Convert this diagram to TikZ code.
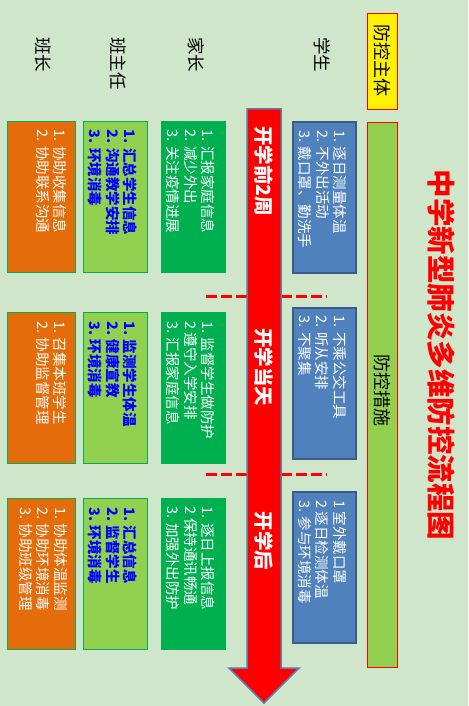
\documentclass[tikz,border=0pt]{standalone}
\usepackage{fontspec}
\setmainfont{Noto Sans CJK SC}
\definecolor{bgc}{HTML}{D0E6CA}
\definecolor{bluef}{HTML}{4F81BD}
\definecolor{blued}{HTML}{385D8A}
\definecolor{greenf}{HTML}{00B050}
\definecolor{lgreen}{HTML}{92D050}
\definecolor{orangef}{HTML}{E46C0A}
\definecolor{arrowb}{HTML}{5A7DA8}
\definecolor{txtblue}{HTML}{0000FF}
\begin{document}
\begin{tikzpicture}[x=1pt,y=1pt,
  vtext/.style={rotate=-90, inner sep=0pt, align=left, anchor=north west,
    font=\fontsize{14.5}{17.5}\selectfont},
  bbox/.style={draw=blued, line width=2pt, fill=bluef, minimum width=63pt, minimum height=151pt, inner sep=0pt},
  gbox/.style={draw=greenf, line width=0.6pt, fill=greenf, minimum width=64pt, minimum height=151pt, inner sep=0pt},
  lbox/.style={draw=greenf, line width=0.8pt, fill=lgreen, minimum width=64pt, minimum height=151pt, inner sep=0pt},
  obox/.style={draw=greenf, line width=0.8pt, fill=orangef, minimum width=68pt, minimum height=151pt, inner sep=0pt},
  head/.style={rotate=-90, anchor=west, inner sep=0pt, font=\fontsize{17.5}{20}\selectfont},
  stagetxt/.style={rotate=-90, inner sep=0pt, text=white, font=\fontsize{19.5}{22}\selectfont\bfseries},
  dashline/.style={draw=red, line width=3pt, dash pattern=on 11pt off 4pt},
  redbar/.style={rotate=-90, draw=red, line width=0.8pt, minimum height=30pt, inner sep=0pt,
    font=\fontsize{18}{20}\selectfont}
]
\useasboundingbox (0,0) rectangle (468,-706);
\fill[bgc] (0,0) rectangle (468,-706);

% title
\node[rotate=-90, inner sep=0pt, text=red, font=\fontsize{28.5}{30}\selectfont\bfseries] (title) at (441,-355) {中学新型肺炎多维防控流程图};

% subject and measure bars
\node[redbar, fill=yellow, minimum width=96pt] (zt) at (382,-61) {防控主体};
\node[redbar, fill=lgreen, minimum width=545pt] (cs) at (382.5,-394.5) {};
\node[rotate=-90, inner sep=0pt, font=\fontsize{18}{20}\selectfont] (cst) at (382.5,-390) {防控措施};

% headers
\node[head] (h1) at (322,-37) {学生};
\node[head] (h2) at (196,-37) {家长};
\node[head] (h3) at (118,-37) {班主任};
\node[head] (h4) at (43,-37) {班长};

% dashed separators
\coordinate (d1a) at (206,-296); \coordinate (d1b) at (327,-296);
\coordinate (d2a) at (206,-474); \coordinate (d2b) at (327,-474);
\draw[dashline] (d1a) -- (d1b);
\draw[dashline] (d2a) -- (d2b);

% arrow
\filldraw[fill=red, draw=arrowb, line width=1.5pt, line join=miter]
  (247,-109) -- (281,-109) -- (281,-668) -- (299,-668) -- (264,-703) -- (229,-668) -- (247,-668) -- cycle;
\node[stagetxt] (a1) at (264,-171) {开学前2周};
\node[stagetxt] (a2) at (264,-367) {开学当天};
\node[stagetxt] (a3) at (264,-541) {开学后};

% student column
\node[bbox] (s1) at (324.5,-197.5) {};
\node[bbox] (s2) at (324.5,-383) {};
\node[bbox] (s3) at (324.5,-567.5) {};
\node[vtext, text=white] at ([xshift=-10pt,yshift=-9pt]s1.north east) {1. 逐日测量体温\\2. 不外出活动\\3. 戴口罩、勤洗手};
\node[vtext, text=white] at ([xshift=-10pt,yshift=-9pt]s2.north east) {1. 不乘公交工具\\2. 听从安排\\3. 不聚集};
\node[vtext, text=white] at ([xshift=-10pt,yshift=-9pt]s3.north east) {1 室外戴口罩\\2 逐日检测体温\\3. 参与环境消毒};

% parent column
\node[gbox] (p1) at (193,-196.5) {};
\node[gbox] (p2) at (193,-388) {};
\node[gbox] (p3) at (193,-573.5) {};
\node[vtext, text=white] at ([xshift=-10pt,yshift=-9pt]p1.north east) {1. 汇报家庭信息\\2. 减少外出\\3. 关注疫情进展};
\node[vtext, text=white] at ([xshift=-10pt,yshift=-9pt]p2.north east) {1. 监督学生做防护\\2 遵守入学安排\\3. 汇报家庭信息};
\node[vtext, text=white] at ([xshift=-10pt,yshift=-9pt]p3.north east) {1. 逐日上报信息\\2 保持通讯畅通\\3. 加强外出防护};

% head teacher column
\node[lbox] (t1) at (115,-196.5) {};
\node[lbox] (t2) at (115,-388) {};
\node[lbox] (t3) at (115,-574) {};
\node[vtext, text=txtblue, font=\fontsize{14.5}{17.5}\selectfont\bfseries] at ([xshift=-10pt,yshift=-9pt]t1.north east) {1. 汇总学生信息\\2. 沟通教学安排\\3. 环境消毒};
\node[vtext, text=txtblue, font=\fontsize{14.5}{17.5}\selectfont\bfseries] at ([xshift=-10pt,yshift=-9pt]t2.north east) {1. 监测学生体温\\2. 健康宣教\\3. 环境消毒};
\node[vtext, text=txtblue, font=\fontsize{14.5}{17.5}\selectfont\bfseries] at ([xshift=-10pt,yshift=-9pt]t3.north east) {1. 汇总信息\\2. 监督学生\\3. 环境消毒};

% monitor column
\node[obox] (m1) at (41,-196.5) {};
\node[obox] (m2) at (41,-388) {};
\node[obox] (m3) at (41,-574) {};
\node[vtext, text=white] at ([xshift=-8pt,yshift=-9pt]m1.north east) {1. 协助收集信息\\2. 协助联系沟通};
\node[vtext, text=white] at ([xshift=-8pt,yshift=-9pt]m2.north east) {1. 召集本班学生\\2. 协助监督管理};
\node[vtext, text=white] at ([xshift=-8pt,yshift=-9pt]m3.north east) {1. 协助体温监测\\2. 协助环境消毒\\3. 协助班级管理};
\end{tikzpicture}
\end{document}
